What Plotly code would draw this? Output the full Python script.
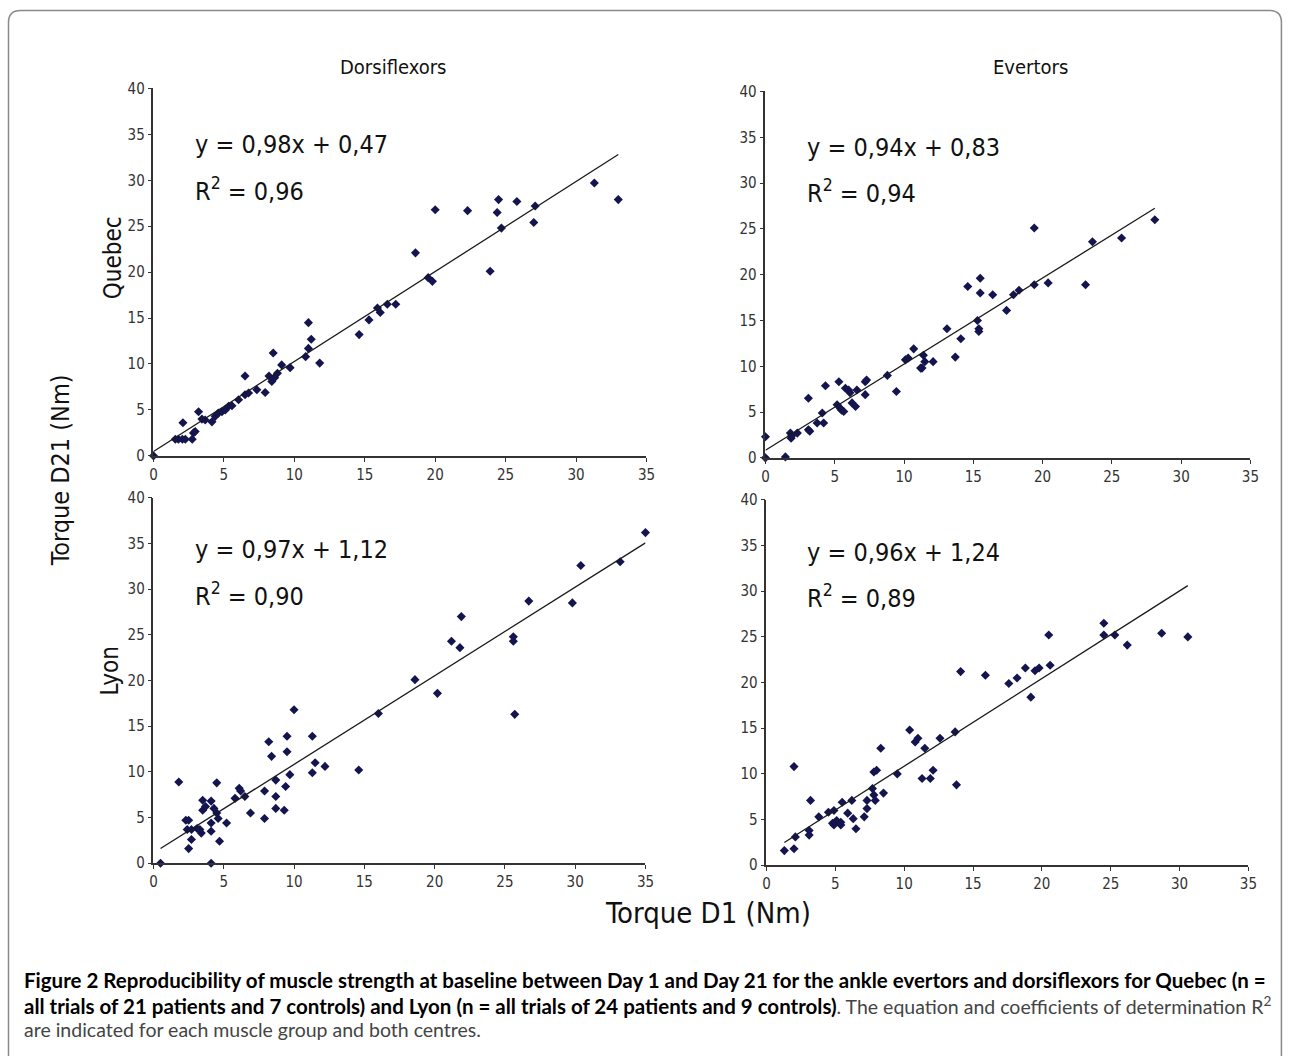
import plotly.graph_objects as go

W, H = 1292, 1056

col_titles = ["Dorsiflexors", "Evertors"]
row_titles = ["Quebec", "Lyon"]
x_title = "Torque D1 (Nm)"
y_title = "Torque D21 (Nm)"
x_ticks = [0, 5, 10, 15, 20, 25, 30, 35]
y_ticks = [0, 5, 10, 15, 20, 25, 30, 35, 40]

# Quebec - Dorsiflexors
x1 = [0, 1.55, 1.77, 2.05, 2.26, 2.75, 2.09, 2.84, 2.96, 3.2, 3.44, 3.67, 4.15, 4.38, 4.6,
      4.86, 5.1, 5.33, 5.57, 6.04, 6.5, 6.75, 6.5, 7.34, 7.93, 8.2, 8.4, 8.6, 8.5, 8.8, 9.1,
      9.7, 10.8, 11.0, 11.2, 11.0, 11.8, 14.6, 15.3, 15.9, 16.1, 16.6, 17.2, 18.6, 19.5,
      19.8, 20.0, 22.3, 23.9, 24.4, 24.5, 24.7, 25.8, 27.0, 27.1, 31.3, 33.0]
y1 = [0, 1.8, 1.8, 1.8, 1.8, 1.8, 3.6, 2.5, 2.65, 4.8, 4.0, 3.9, 3.7, 4.3, 4.65,
      4.8, 5.0, 5.4, 5.45, 6.1, 6.65, 6.84, 8.7, 7.2, 6.9, 8.7, 8.1, 8.5, 11.2, 9.0, 9.9,
      9.6, 10.8, 11.7, 12.7, 14.5, 10.1, 13.2, 14.8, 16.1, 15.6, 16.5, 16.5, 22.1, 19.4,
      19.0, 26.8, 26.7, 20.1, 26.5, 27.9, 24.8, 27.7, 25.4, 27.2, 29.7, 27.9]

# Quebec - Evertors
x2 = [0, 0, 1.44, 1.8, 1.85, 1.9, 2.3, 3.1, 3.1, 3.2, 3.73, 4.1, 4.2, 4.33, 5.17, 5.41,
      5.5, 5.65, 5.3, 5.77, 6.0, 6.1, 6.25, 6.5, 6.6, 7.2, 7.3, 7.2, 8.8, 9.45, 10.1, 10.3,
      10.7, 11.2, 11.3, 11.4, 11.5, 12.1, 13.1, 13.7, 14.1, 14.6, 15.3, 15.4, 15.4, 15.5,
      15.5, 16.4, 17.4, 17.9, 18.3, 19.4, 19.4, 20.4, 23.1, 23.6, 25.7, 28.1]
y2 = [0, 2.3, 0.1, 2.7, 2.15, 2.4, 2.7, 6.5, 3.06, 2.9, 3.8, 4.9, 3.8, 7.87, 5.8, 5.4,
      5.2, 5.06, 8.3, 7.6, 7.4, 7.1, 6.0, 5.6, 7.4, 8.3, 8.5, 6.9, 9.0, 7.25, 10.7, 10.9,
      11.9, 9.8, 9.8, 11.2, 10.5, 10.5, 14.1, 11.0, 13.0, 18.7, 15.0, 14.1, 13.8, 19.6,
      18.0, 17.8, 16.1, 17.8, 18.3, 25.1, 18.9, 19.1, 18.9, 23.6, 24.0, 26.0]

# Lyon - Dorsiflexors
x3 = [0.5, 1.8, 2.3, 2.5, 2.4, 2.7, 2.5, 2.7, 3.1, 3.3, 3.4, 3.5, 3.5, 3.7, 4.1, 4.1,
      4.1, 4.3, 4.1, 4.5, 4.5, 4.6, 4.7, 5.2, 5.8, 6.1, 6.2, 6.5, 6.9, 7.9, 7.9, 8.2, 8.4,
      8.7, 8.7, 8.7, 9.3, 9.4, 9.5, 9.5, 9.7, 10.0, 11.3, 11.3, 11.5, 12.2, 14.6, 16.0,
      18.6, 20.2, 21.2, 21.8, 21.9, 25.6, 25.6, 25.7, 26.7, 29.8, 30.4, 33.2, 35.0]
y3 = [0, 8.9, 4.7, 4.7, 3.7, 3.7, 1.6, 2.6, 3.8, 3.7, 3.3, 6.9, 5.8, 6.2, 4.4, 3.5,
      6.8, 6.0, 0, 8.8, 5.5, 4.9, 2.4, 4.4, 7.1, 8.2, 7.9, 7.3, 5.5, 7.9, 4.9, 13.3, 11.7,
      9.1, 7.3, 6.0, 5.8, 8.4, 13.9, 12.2, 9.7, 16.8, 13.9, 9.9, 11.0, 10.6, 10.2, 16.4,
      20.1, 18.6, 24.3, 23.6, 27.0, 24.8, 24.3, 16.3, 28.7, 28.5, 32.6, 33.0, 36.2]

# Lyon - Evertors
x4 = [1.3, 2.0, 2.0, 2.1, 3.1, 3.1, 3.2, 3.8, 4.5, 4.8, 4.9, 5.0, 4.9, 5.1, 5.4, 5.4,
      5.5, 5.9, 6.2, 6.3, 6.5, 7.1, 7.3, 7.3, 7.7, 7.8, 7.9, 7.8, 8.0, 8.3, 8.5, 9.5, 10.4,
      10.8, 11.0, 11.3, 11.5, 11.9, 12.1, 12.6, 13.7, 13.8, 14.1, 15.9, 17.6, 18.2, 18.8,
      19.2, 19.5, 19.8, 20.5, 20.6, 24.5, 24.5, 25.3, 26.2, 28.7, 30.6]
y4 = [1.6, 1.8, 10.8, 3.1, 3.8, 3.3, 7.1, 5.3, 5.8, 4.6, 4.4, 4.7, 6.0, 4.9, 4.7, 4.4,
      6.9, 5.7, 7.1, 5.1, 4.0, 5.3, 7.1, 6.2, 8.4, 7.7, 7.1, 10.2, 10.4, 12.8, 7.9, 10.0, 14.8,
      13.5, 13.9, 9.5, 12.8, 9.5, 10.4, 13.9, 14.6, 8.8, 21.2, 20.8, 19.9, 20.5, 21.6,
      18.4, 21.3, 21.6, 25.2, 21.9, 26.5, 25.2, 25.2, 24.1, 25.4, 25.0]

slopes = [0.98, 0.94, 0.97, 0.96]
intercepts = [0.47, 0.83, 1.12, 1.24]
r_squared = [0.96, 0.94, 0.90, 0.89]

caption_line1 = ("<b>Figure 2 Reproducibility of muscle strength at baseline between Day 1 and Day 21 "
                 "for the ankle evertors and dorsiflexors for Quebec (n =</b>")
caption_line2 = ("<b>all trials of 21 patients and 7 controls) and Lyon (n = all trials of 24 patients "
                 "and 9 controls)</b><span style='color:#444;font-size:19.5px'>. The equation and "
                 "coefficients of determination R<sup>2</sup></span>")
caption_line3 = "are indicated for each muscle group and both centres."

# ---------------- layout geometry (pixels, as seen in the target picture) ----------------
panels = [
    dict(xs=x1, ys=y1, px=(153, 646), py=(89, 456)),
    dict(xs=x2, ys=y2, px=(765, 1250), py=(92, 458)),
    dict(xs=x3, ys=y3, px=(153, 645), py=(498, 863)),
    dict(xs=x4, ys=y4, px=(766, 1248), py=(500, 865)),
]
eq_pos = [(193, 145, 190), (805, 148, 192), (193, 550, 595), (805, 553, 597)]

FONT = "DejaVu Sans Condensed, DejaVu Sans, sans-serif"
MARK = "#14144e"

# mapping from picture pixels to paper coordinates (compensates capture scaling)
SX, OX, SY, OY = 0.99, 3.5, 0.982, 9.6

def px2x(p):
    return ((p - OX) / SX) / W

def py2y(p):
    return 1 - ((p - OY) / SY) / H

fig = go.Figure()
layout = dict(
    width=W, height=H, margin=dict(l=0, r=0, t=0, b=0, pad=0), autosize=False,
    paper_bgcolor="white", plot_bgcolor="white", showlegend=False,
    font=dict(family=FONT, color="#222"),
)

annotations = []

def add_text(text, x, y, size, xanchor="center", angle=0, family=FONT, color="#111"):
    annotations.append(dict(text=text, x=px2x(x), y=py2y(y), xref="paper", yref="paper",
                            xanchor=xanchor, yanchor="middle", textangle=angle,
                            showarrow=False, font=dict(size=size, color=color, family=family)))

for i, p in enumerate(panels):
    k = "" if i == 0 else str(i + 1)
    xa, ya = "x" + k, "y" + k
    assert len(p["xs"]) == len(p["ys"])
    layout["xaxis" + k] = dict(
        domain=[px2x(p["px"][0]), px2x(p["px"][1])], anchor=ya, range=[0, 35],
        tickvals=x_ticks, showgrid=False, zeroline=False, showline=True,
        linecolor="#333", linewidth=1.5, ticks="outside", ticklen=4, tickcolor="#333",
        tickfont=dict(size=15, color="#333", family=FONT), fixedrange=True,
    )
    layout["yaxis" + k] = dict(
        domain=[py2y(p["py"][1]), py2y(p["py"][0])], anchor=xa, range=[0, 40],
        tickvals=y_ticks, showgrid=False, zeroline=False, showline=True,
        linecolor="#333", linewidth=1.5, ticks="outside", ticklen=4, tickcolor="#333",
        tickfont=dict(size=15, color="#333", family=FONT), fixedrange=True,
    )
    fig.add_trace(go.Scatter(
        x=p["xs"], y=p["ys"], mode="markers", xaxis=xa, yaxis=ya, cliponaxis=False,
        marker=dict(symbol="diamond", size=7, color=MARK, line=dict(width=0)),
    ))
    xmin, xmax = min(p["xs"]), max(p["xs"])
    fig.add_trace(go.Scatter(
        x=[xmin, xmax], y=[slopes[i] * xmin + intercepts[i], slopes[i] * xmax + intercepts[i]],
        mode="lines", xaxis=xa, yaxis=ya, line=dict(color="#1a1a1a", width=1.3),
    ))
    ex, ey1, ey2 = eq_pos[i]
    eq = f"y = {slopes[i]:.2f}x + {intercepts[i]:.2f}".replace(".", ",")
    r2 = f"R<sup>2</sup> = {r_squared[i]:.2f}".replace(".", ",")
    add_text(eq, ex, ey1, 25, xanchor="left")
    add_text(r2, ex, ey2, 25, xanchor="left")

# column / row / axis titles
add_text(col_titles[0], 393, 68, 20)
add_text(col_titles[1], 1030, 68, 20)
add_text(row_titles[0], 112, 258, 24, angle=-90)
add_text(row_titles[1], 110, 670, 24, angle=-90)
add_text(y_title, 60, 470, 25, angle=-90)
add_text(x_title, 708, 913, 29)

# caption
CAP = "Lato, Open Sans, sans-serif"
add_text(caption_line1, 22, 980, 20.5, xanchor="left", family=CAP, color="#000")
add_text(caption_line2, 22, 1005, 20.5, xanchor="left", family=CAP, color="#000")
add_text(caption_line3, 22, 1029, 19.5, xanchor="left", family=CAP, color="#444")

layout["annotations"] = annotations

# card border (rounded top corners, extends past bottom edge)
L, R, T, B, r = 8, 1281, 11, 1080, 12
path = (f"M {px2x(L)} {py2y(B)} L {px2x(L)} {py2y(T + r)} "
        f"Q {px2x(L)} {py2y(T)} {px2x(L + r)} {py2y(T)} "
        f"L {px2x(R - r)} {py2y(T)} "
        f"Q {px2x(R)} {py2y(T)} {px2x(R)} {py2y(T + r)} "
        f"L {px2x(R)} {py2y(B)}")
layout["shapes"] = [dict(type="path", path=path, xref="paper", yref="paper",
                         line=dict(color="#8a8a8a", width=1.5))]

fig.update_layout(**layout)
fig.write_html(
    "out.html",
    config={"displayModeBar": False},
    post_script="document.body.style.margin='0';document.body.style.overflow='hidden';"
                "document.documentElement.style.overflow='hidden';",
)
